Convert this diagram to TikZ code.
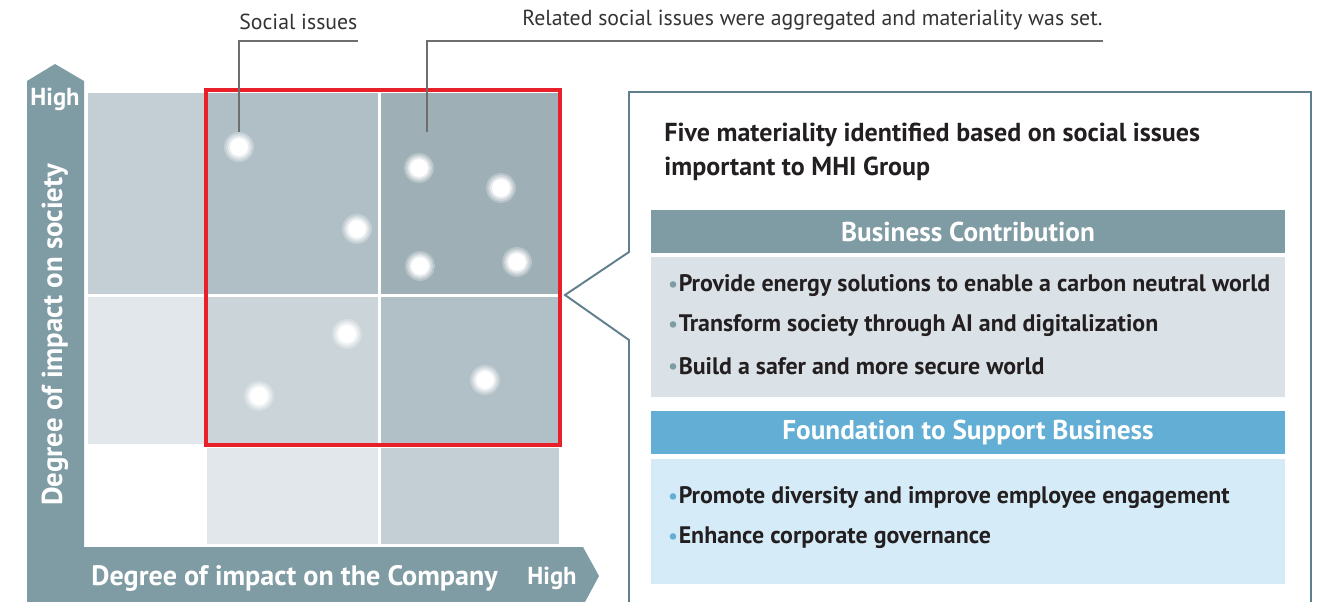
\documentclass[tikz,border=0pt]{standalone}
\usepackage{fontspec}
\setmainfont{PT Sans}
\usepackage{xcolor}
\usetikzlibrary{positioning, calc}

\definecolor{axisgrey}{HTML}{7F9BA4}
\definecolor{leadgrey}{HTML}{6E6E6E}
\definecolor{labgrey}{HTML}{333333}
\definecolor{txtdark}{HTML}{231F20}
\definecolor{redframe}{HTML}{E8202A}
\definecolor{panelline}{HTML}{5F7F8C}
\definecolor{bizbody}{HTML}{DBE2E7}
\definecolor{fndblue}{HTML}{63AED4}
\definecolor{fndbody}{HTML}{D5ECF8}
\definecolor{cellA}{HTML}{C3CFD4}
\definecolor{cellB}{HTML}{B0BFC6}
\definecolor{cellC}{HTML}{9EAFB6}
\definecolor{cellD}{HTML}{E1E7EA}
\definecolor{cellE}{HTML}{CAD4D9}
\definecolor{cellF}{HTML}{B1C0C6}

\newcommand{\bizbul}{\textcolor{axisgrey}{\raisebox{0.05ex}{\large\textbullet}}\hspace{0.5pt}}
\newcommand{\fndbul}{\textcolor{fndblue}{\raisebox{0.05ex}{\large\textbullet}}\hspace{0.5pt}}

\tikzset{
  toplabel/.style={font=\fontsize{12.4}{14}\selectfont, text=labgrey, inner xsep=0pt, inner ysep=6pt},
  leader/.style={draw=leadgrey, line width=0.6pt},
  issuedot/.style={circle, inner sep=0pt, minimum size=0.6cm,
    path picture={
      \fill[white, opacity=0.25] (path picture bounding box.center) circle (0.3cm);
      \fill[white, opacity=0.35] (path picture bounding box.center) circle (0.26cm);
      \fill[white, opacity=0.5] (path picture bounding box.center) circle (0.22cm);
      \fill[white] (path picture bounding box.center) circle (0.18cm);
    }},
  axistxt/.style={text=white, inner sep=0pt, font=\bfseries\fontsize{14}{16}\selectfont},
  headbar/.style={minimum width=12.68cm, minimum height=0.86cm, inner sep=0pt, text=white,
    font=\bfseries\fontsize{15.5}{17}\selectfont},
  bodybox/.style={minimum width=12.68cm, inner sep=0pt},
  itemtxt/.style={anchor=west, inner sep=0pt, text=txtdark, font=\bfseries\fontsize{13.6}{15}\selectfont},
}

\begin{document}
\begin{tikzpicture}[x=0.02cm, y=-0.02cm]
  \useasboundingbox (0,0) rectangle (1323,602);

  % Matrix cells
  \fill[cellA] (88,93) rectangle (204,294);
  \fill[cellB] (207,93) rectangle (378,294);
  \fill[cellC] (381,93) rectangle (559,294);
  \fill[cellD] (88,297) rectangle (204,444);
  \fill[cellE] (207,297) rectangle (378,444);
  \fill[cellF] (381,297) rectangle (559,444);
  \fill[cellD] (207,448) rectangle (378,544);
  \fill[cellA] (381,448) rectangle (559,544);

  % Social issues
  \node[issuedot] (d1) at (239,147) {};
  \node[issuedot] (d2) at (357,229) {};
  \node[issuedot] (d3) at (419,168) {};
  \node[issuedot] (d4) at (501,188) {};
  \node[issuedot] (d5) at (420,266) {};
  \node[issuedot] (d6) at (517,262) {};
  \node[issuedot] (d7) at (347,334) {};
  \node[issuedot] (d8) at (259,396) {};
  \node[issuedot] (d9) at (485,380) {};

  % Materiality frame
  \draw[redframe, line width=2.5pt] (206,90) rectangle (560,445);

  % Leader lines and labels
  \node[toplabel, anchor=south west] (lblissue) at (239,41) {Social issues};
  \node[toplabel, anchor=south east] (lblaggr) at (1103,41) {Related social issues were aggregated and materiality was set.};
  \coordinate (aggr) at (427,132);
  \draw[leader] (d1.north) |- (lblissue.south east);
  \draw[leader] (aggr) |- (lblaggr.south east);

  % Axes
  \fill[axisgrey] (27,602) -- (27,81) -- (55,64) -- (84,81) -- (84,547)
    -- (583,547) -- (599,576) -- (585,602) -- cycle;
  \node[axistxt] (yhigh) at (55,99) {High};
  \node[axistxt, rotate=90, font=\bfseries\fontsize{16.4}{18}\selectfont] (ylab) at (55,335) {Degree of impact on society};
  \node[axistxt, anchor=west, font=\bfseries\fontsize{16}{18}\selectfont] (xlab) at (91,578) {Degree of impact on the Company};
  \node[axistxt, anchor=east] (xhigh) at (577,578) {High};

  % Callout panel
  \coordinate (tip) at (565,295);
  \draw[panelline, line width=1.1pt] (629,602) -- (629,340) -- (tip) -- (629,252)
    -- (629,92) -- (1311,92) -- (1311,602);
  \node[anchor=west, align=left, inner sep=0pt, text=txtdark,
    font=\bfseries\fontsize{14.8}{19.3}\selectfont] (title) at (664,152)
    {Five materiality identified based on social issues\\important to MHI Group};

  \node[headbar, fill=axisgrey] (bizhead) at (968,231.5) {Business Contribution};
  \node[bodybox, fill=bizbody, minimum height=2.8cm, below=0.06cm of bizhead] (bizbox) {};
  \node[itemtxt] (biz1) at (668,286) {\bizbul Provide energy solutions to enable a carbon neutral world};
  \node[itemtxt] (biz2) at (668,326) {\bizbul Transform society through AI and digitalization};
  \node[itemtxt] (biz3) at (668,366) {\bizbul Build a safer and more secure world};

  \node[headbar, fill=fndblue] (fndhead) at (968,432.5) {Foundation to Support Business};
  \node[bodybox, fill=fndbody, minimum height=2.5cm, below=0.08cm of fndhead] (fndbox) {};
  \node[itemtxt] (fnd1) at (668,498) {\fndbul Promote diversity and improve employee engagement};
  \node[itemtxt] (fnd2) at (668,538) {\fndbul Enhance corporate governance};
\end{tikzpicture}
\end{document}
